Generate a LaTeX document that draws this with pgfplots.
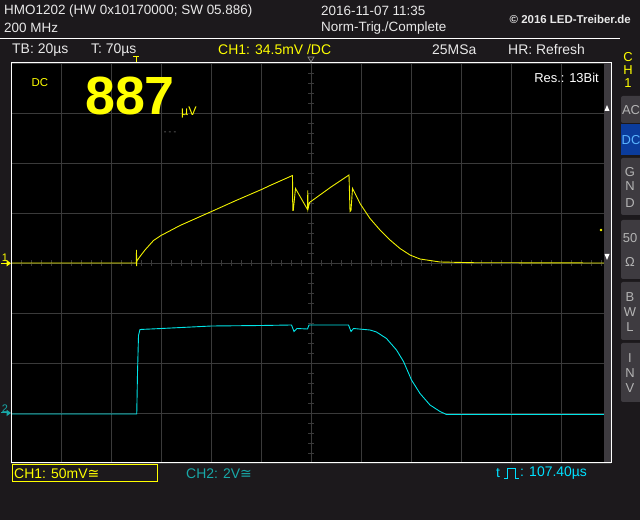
\documentclass[border=0pt]{standalone}
\usepackage{fontspec}
\setmainfont{Liberation Sans}
\newfontfamily\dejavu{DejaVu Sans}
\usepackage{pgfplots}
\pgfplotsset{compat=1.18}
\usepackage{pgfplotstable}

\definecolor{bgdark}{HTML}{1C191C}
\definecolor{gridgray}{HTML}{3A3A3A}
\definecolor{scopeyellow}{HTML}{FFFF00}
\definecolor{traceyellow}{HTML}{F2F200}
\definecolor{tracecyan}{HTML}{00E5E8}
\definecolor{ch2teal}{HTML}{18A8A8}
\definecolor{tcyan}{HTML}{00E0FF}
\definecolor{btngray}{HTML}{3E3B40}
\definecolor{btntext}{HTML}{B4B4B4}
\definecolor{btnblue}{HTML}{0B3C9C}
\definecolor{btnbluetext}{HTML}{5AB4FF}
\definecolor{hdrtext}{HTML}{E8E8E8}

% CH1 (yellow), x and y in divisions (20 us/div, 50 mV/div)
\pgfplotstableread{
x y
0 0
2.505 0
2.510 0.26
2.513 -0.06
2.517 0.04
2.58 0.13
2.68 0.26
2.85 0.45
3.00 0.55
3.38 0.75
4.01 1.03
4.50 1.25
5.01 1.47
5.18 1.55
5.63 1.75
5.635 1.05
5.645 1.05
5.69 1.49
5.93 1.07
5.935 1.45
5.94 1.08
5.97 1.21
6.40 1.52
6.76 1.76
6.78 1.03
6.80 1.05
6.83 1.49
6.98 1.19
7.18 0.89
7.38 0.66
7.58 0.46
7.78 0.29
7.98 0.16
8.18 0.08
8.38 0.05
8.58 0.02
9.24 0.006
11.86 0
}\chone

% CH2 (cyan), offset -3 div (2 V/div)
\pgfplotstableread{
x y
0 -3.02
2.515 -3.02
2.53 -2.2
2.55 -1.45
2.58 -1.33
3.01 -1.31
4.01 -1.26
5.01 -1.25
5.61 -1.24
5.66 -1.37
5.72 -1.31
5.93 -1.32
5.96 -1.24
6.75 -1.24
6.80 -1.37
6.85 -1.31
7.18 -1.34
7.31 -1.38
7.51 -1.51
7.71 -1.74
7.85 -1.97
8.01 -2.34
8.18 -2.61
8.38 -2.84
8.58 -2.97
8.71 -3.03
11.86 -3.03
}\chtwo

\newcommand\hdr{\fontsize{13.5}{16}\selectfont}
\newcommand\rowf{\fontsize{14}{16}\selectfont}
\newcommand\btnf{\fontsize{13}{15}\selectfont}

\begin{document}
\begin{tikzpicture}[x=1bp,y=1bp]
\fill[bgdark] (0,0) rectangle (640,520);
\fill[black] (11,57) rectangle (611,457);
% centre graticule ticks
\foreach \k in {1,...,39} \draw[gridgray, line width=0.8] (308,{57+10*\k}) -- (314,{57+10*\k});
\foreach \k in {1,...,59} \draw[gridgray, line width=0.8] ({11+10*\k},254) -- ({11+10*\k},260);

\begin{axis}[
  at={(11bp,57bp)}, anchor=south west, scale only axis,
  width=600bp, height=400bp,
  xmin=0, xmax=12, ymin=-4, ymax=4,
  xtick={0,...,12}, ytick={-4,...,4},
  xticklabels={}, yticklabels={},
  major tick length=0pt,
  grid=major, major grid style={gridgray, line width=0.8pt},
  axis line style={white, line width=1pt},
]
\addplot[traceyellow, line width=0.9pt] table {\chone};
\addplot[tracecyan, line width=0.9pt] table {\chtwo};
\end{axis}

% scrollbar strip and frame
\fill[btngray] (604,57) rectangle (610.5,457);
\fill[white] (604.5,409) -- (609.5,409) -- (607,415) -- cycle;
\fill[white] (604.5,266) -- (609.5,266) -- (607,260) -- cycle;
\draw[white, line width=1pt] (11,57) rectangle (611,457);
\fill[scopeyellow] (601,290) circle (1.3);

% header
\draw[white, line width=1pt] (0,481) -- (620,481);
\node[anchor=west, text=hdrtext, inner sep=0] at (4,509) {\hdr HMO1202 (HW 0x10170000; SW 05.886)};
\node[anchor=west, text=hdrtext, inner sep=0] at (4,492) {\hdr 200 MHz};
\node[anchor=west, text=hdrtext, inner sep=0] at (321,509) {\hdr 2016-11-07 11:35};
\node[anchor=west, text=hdrtext, inner sep=0] at (321,492) {\hdr Norm-Trig./Complete};
\node[anchor=east, text=hdrtext, inner sep=0] at (631,501) {\fontsize{11.5}{13}\selectfont\bfseries © 2016 LED-Treiber.de};

% second row
\node[anchor=west, text=hdrtext, inner sep=0] at (12,470) {\rowf TB: 20µs};
\node[anchor=west, text=hdrtext, inner sep=0] at (91,470) {\rowf T: 70µs};
\node[anchor=west, text=scopeyellow, inner sep=0] at (218,470) {\rowf CH1: 34.5mV /DC};
\node[anchor=west, text=hdrtext, inner sep=0] at (432,470) {\rowf 25MSa};
\node[anchor=west, text=hdrtext, inner sep=0] at (508,470) {\rowf HR: Refresh};

% top markers
\draw[scopeyellow, line width=1] (133,463) -- (139,463) (136,463) -- (136,458);
\draw[gray, line width=0.8] (308,463) -- (314,463) -- (311,458) -- cycle;

% in-screen texts
\node[text=scopeyellow, inner sep=0] at (40,437) {\fontsize{11.5}{13}\selectfont DC};
\node[text=scopeyellow, inner sep=0, text depth=0pt, anchor=base] at (130,405) {\fontsize{54}{58}\selectfont\bfseries 887};
\node[text=scopeyellow, inner sep=0, anchor=base west] at (181,404) {\fontsize{12.5}{14}\selectfont µV};
\node[text=gray, inner sep=0] at (170,387) {\fontsize{8}{9}\selectfont - - -};
\node[text=white, inner sep=0, anchor=east] at (599,442) {\fontsize{13}{15}\selectfont Res.: 13Bit};

% channel markers
\node[text=scopeyellow, inner sep=0] at (5,262.5) {\fontsize{11}{13}\selectfont 1};
\fill[scopeyellow] (1,256.2) rectangle (7,257.2);
\fill[scopeyellow] (6.5,253.5) -- (11,256.7) -- (6.5,260) -- cycle;
\node[text=ch2teal, inner sep=0] at (5,111) {\fontsize{11}{13}\selectfont 2};
\fill[ch2teal] (1,106.5) rectangle (7,107.5);
\fill[ch2teal] (6.5,103.8) -- (11,107) -- (6.5,110.3) -- cycle;

% right panel
\node[text=scopeyellow, inner sep=0] at (628,463) {\btnf C};
\node[text=scopeyellow, inner sep=0] at (628,450) {\btnf H};
\node[text=scopeyellow, inner sep=0] at (628,437) {\btnf 1};
\fill[btngray, rounded corners=2] (621,397) rectangle (645,424);
\node[text=btntext, inner sep=0] at (631,410) {\btnf AC};
\fill[btnblue] (621,365) rectangle (645,396);
\node[text=btnbluetext, inner sep=0] at (631,380) {\btnf DC};
\fill[btngray, rounded corners=2] (621,305) rectangle (645,362);
\node[text=btntext, inner sep=0] at (630,348) {\btnf G};
\node[text=btntext, inner sep=0] at (630,334) {\btnf N};
\node[text=btntext, inner sep=0] at (630,317) {\btnf D};
\fill[btngray, rounded corners=2] (621,241) rectangle (645,300);
\node[text=btntext, inner sep=0] at (630,282) {\btnf 50};
\node[text=btntext, inner sep=0] at (630,258) {\btnf Ω};
\fill[btngray, rounded corners=2] (621,180) rectangle (645,238);
\node[text=btntext, inner sep=0] at (630,223) {\btnf B};
\node[text=btntext, inner sep=0] at (630,208) {\btnf W};
\node[text=btntext, inner sep=0] at (630,193) {\btnf L};
\fill[btngray, rounded corners=2] (621,118) rectangle (645,177);
\node[text=btntext, inner sep=0] at (630,162) {\btnf I};
\node[text=btntext, inner sep=0] at (630,147) {\btnf N};
\node[text=btntext, inner sep=0] at (630,132) {\btnf V};

% bottom status line
\draw[scopeyellow, line width=1] (12.5,38.5) rectangle (157,55);
\node[anchor=west, text=scopeyellow, inner sep=0] at (14,46.5) {\rowf CH1: 50mV{\dejavu ≅}};
\node[anchor=west, text=ch2teal, inner sep=0] at (186,46.5) {\rowf CH2: 2V{\dejavu ≅}};
\node[anchor=west, text=tcyan, inner sep=0] at (496,46.5) {\rowf t};
\draw[tcyan, line width=1] (504,41) -- (507.5,41) -- (507.5,51) -- (515.5,51) -- (515.5,41) -- (519,41);
\node[anchor=west, text=tcyan, inner sep=0] at (520,46.5) {\rowf : 107.40µs};

\pgfresetboundingbox
\path[use as bounding box] (0,0) rectangle (640,520);
\end{tikzpicture}
\end{document}
